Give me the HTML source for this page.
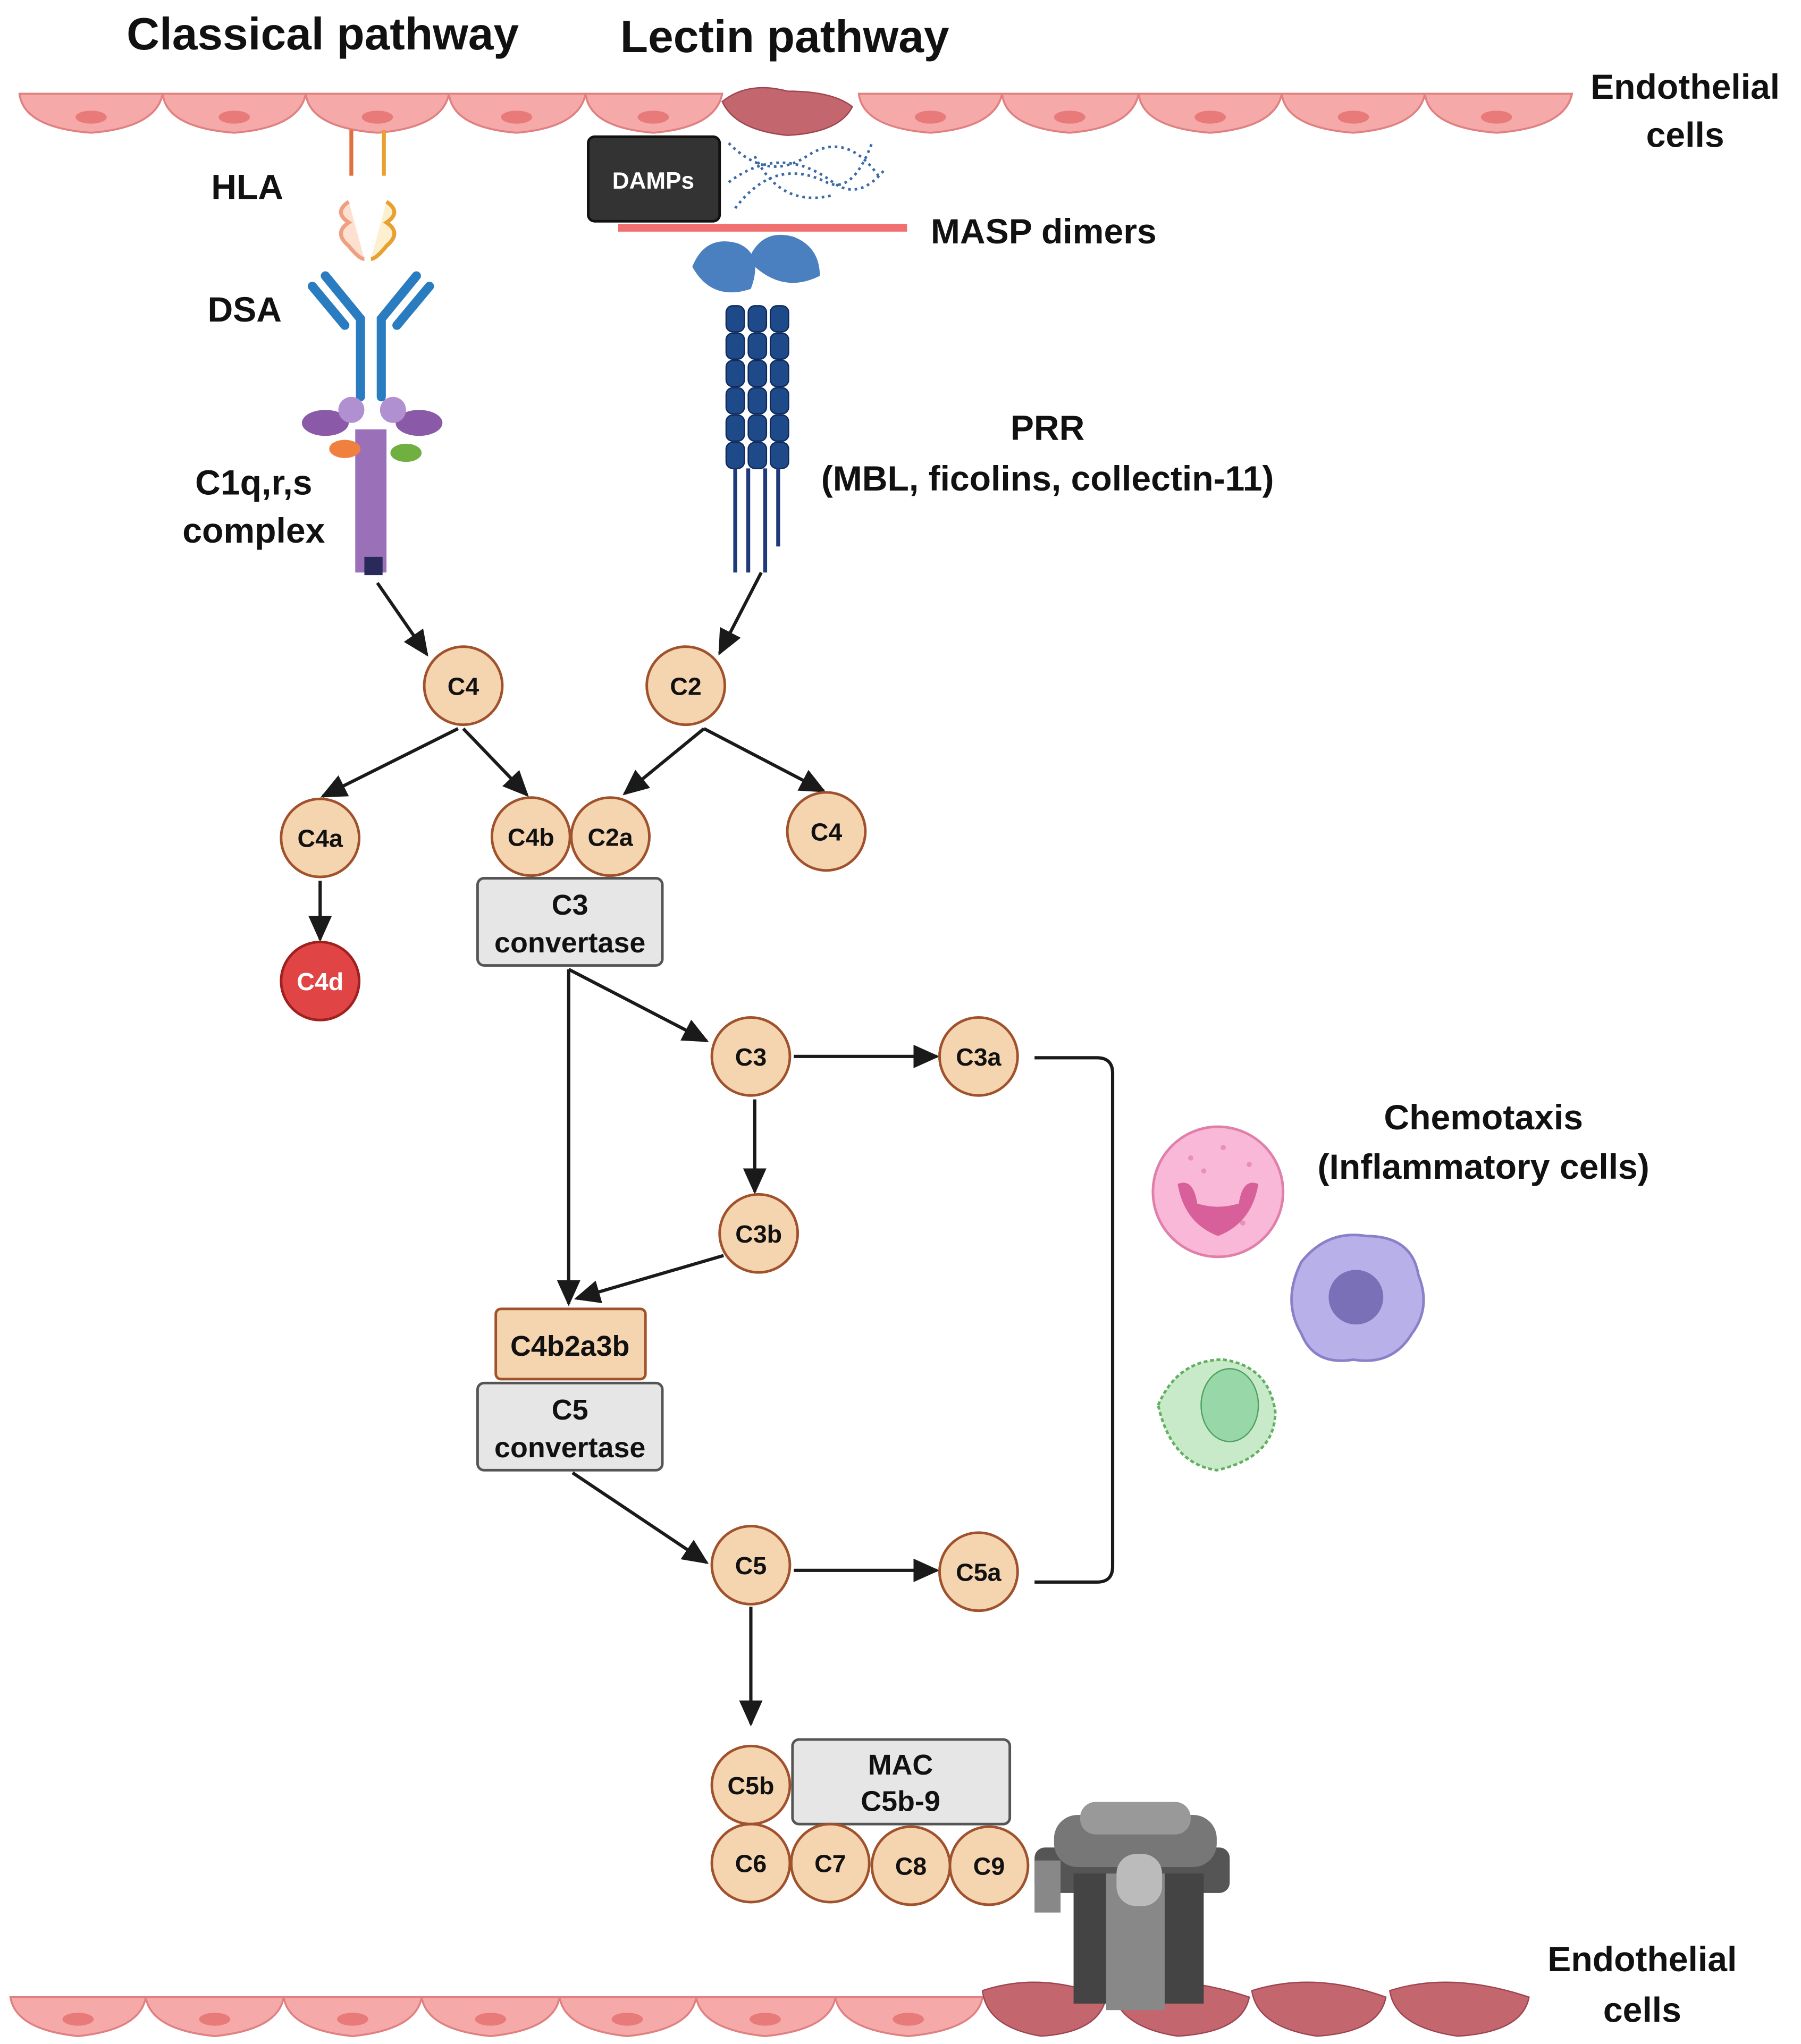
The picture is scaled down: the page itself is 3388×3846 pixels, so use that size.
<!DOCTYPE html>
<html><head><meta charset="utf-8"><style>
html,body{margin:0;padding:0;background:#fff}
svg{display:block}
text{font-family:"Liberation Sans",sans-serif;font-weight:bold;fill:#111}
</style></head><body>
<svg width="3388" height="3846" viewBox="0 0 1384 1571" xmlns="http://www.w3.org/2000/svg">
<defs>
<marker id="ah2" markerWidth="22" markerHeight="22" refX="18" refY="11" orient="auto" markerUnits="userSpaceOnUse" viewBox="0 0 22 22">
<path d="M0,2 L20,11 L0,20 z" fill="#1a1a1a"/></marker>
</defs>
<!-- titles -->
<text x="248" y="38" font-size="35" text-anchor="middle">Classical pathway</text>
<text x="603" y="40" font-size="35" text-anchor="middle">Lectin pathway</text>
<text x="1295" y="76" font-size="27" text-anchor="middle">Endothelial</text>
<text x="1295" y="113" font-size="27" text-anchor="middle">cells</text>
<text x="1262" y="1515" font-size="27" text-anchor="middle">Endothelial</text>
<text x="1262" y="1554" font-size="27" text-anchor="middle">cells</text>
<!-- top endothelium -->
<g fill="#f6a9a9" stroke="#e08080" stroke-width="1.5">
<path d="M15,72 L125,72 Q120,98 70,102 Q18,98 15,72Z"/>
<path d="M125,72 L235,72 Q230,98 180,102 Q128,98 125,72Z"/>
<path d="M235,72 L345,72 Q340,98 290,102 Q238,98 235,72Z"/>
<path d="M345,72 L450,72 Q445,98 397,102 Q348,98 345,72Z"/>
<path d="M450,72 L555,72 Q550,98 502,102 Q453,98 450,72Z"/>
<path d="M660,72 L770,72 Q765,98 715,102 Q663,98 660,72Z"/>
<path d="M770,72 L875,72 Q870,98 822,102 Q773,98 770,72Z"/>
<path d="M875,72 L985,72 Q980,98 930,102 Q878,98 875,72Z"/>
<path d="M985,72 L1095,72 Q1090,98 1040,102 Q988,98 985,72Z"/>
<path d="M1095,72 L1208,72 Q1203,98 1150,102 Q1098,98 1095,72Z"/>
</g>
<g fill="#e97a7a">
<ellipse cx="70" cy="90" rx="12" ry="5"/><ellipse cx="180" cy="90" rx="12" ry="5"/><ellipse cx="290" cy="90" rx="12" ry="5"/><ellipse cx="397" cy="90" rx="12" ry="5"/><ellipse cx="502" cy="90" rx="12" ry="5"/><ellipse cx="715" cy="90" rx="12" ry="5"/><ellipse cx="822" cy="90" rx="12" ry="5"/><ellipse cx="930" cy="90" rx="12" ry="5"/><ellipse cx="1040" cy="90" rx="12" ry="5"/><ellipse cx="1150" cy="90" rx="12" ry="5"/>
</g>
<path d="M555,78 Q575,62 605,70 Q640,70 655,82 Q645,102 605,104 Q565,100 555,78Z" fill="#c4666e" stroke="#9e4450"/>
<!-- bottom endothelium -->
<g fill="#f6a9a9" stroke="#e08080" stroke-width="1.5">
<path d="M8,1535 L112,1535 Q108,1560 60,1565 Q12,1560 8,1535Z"/>
<path d="M112,1535 L218,1535 Q214,1560 165,1565 Q116,1560 112,1535Z"/>
<path d="M218,1535 L324,1535 Q320,1560 271,1565 Q222,1560 218,1535Z"/>
<path d="M324,1535 L430,1535 Q426,1560 377,1565 Q328,1560 324,1535Z"/>
<path d="M430,1535 L535,1535 Q531,1560 482,1565 Q434,1560 430,1535Z"/>
<path d="M535,1535 L642,1535 Q638,1560 588,1565 Q539,1560 535,1535Z"/>
<path d="M642,1535 L755,1535 Q751,1560 698,1565 Q646,1560 642,1535Z"/>
</g>
<g fill="#e97a7a">
<ellipse cx="60" cy="1552" rx="12" ry="5"/><ellipse cx="165" cy="1552" rx="12" ry="5"/><ellipse cx="271" cy="1552" rx="12" ry="5"/><ellipse cx="377" cy="1552" rx="12" ry="5"/><ellipse cx="482" cy="1552" rx="12" ry="5"/><ellipse cx="588" cy="1552" rx="12" ry="5"/><ellipse cx="698" cy="1552" rx="12" ry="5"/>
</g>
<g fill="#c4666e" stroke="#9e4450">
<path d="M755,1530 Q800,1515 850,1535 Q845,1562 800,1565 Q758,1558 755,1530Z"/>
<path d="M855,1530 Q900,1515 960,1535 Q955,1562 905,1565 Q860,1558 855,1530Z"/>
<path d="M962,1530 Q1010,1515 1065,1535 Q1060,1562 1012,1565 Q966,1558 962,1530Z"/>
<path d="M1068,1530 Q1115,1515 1175,1535 Q1170,1562 1120,1565 Q1072,1558 1068,1530Z"/>
</g>
<!-- labels left -->
<text x="190" y="153" font-size="27" text-anchor="middle">HLA</text>
<text x="188" y="247" font-size="27" text-anchor="middle">DSA</text>
<text x="195" y="380" font-size="27" text-anchor="middle">C1q,r,s</text>
<text x="195" y="417" font-size="27" text-anchor="middle">complex</text>
<!-- HLA -->
<g stroke-width="3" fill="none">
<path d="M270,100 L270,135" stroke="#e07040"/><path d="M295,100 L295,135" stroke="#e8a030"/>
<path d="M268,155 q-12,8 0,16 q-12,8 0,18 q8,10 12,10" stroke="#f0a080" fill="#fde0d0"/>
<path d="M297,155 q12,8 0,16 q12,8 0,18 q-8,10 -12,10" stroke="#e8a030" fill="#fdf0d0"/>
</g>
<!-- DSA -->
<g stroke="#2a7cc0" stroke-width="7" fill="none" stroke-linecap="round">
<path d="M277,305 L277,245 L250,212"/><path d="M293,305 L293,245 L320,212"/>
<path d="M265,250 L240,220"/><path d="M305,250 L330,220"/>
</g>
<!-- C1q -->
<g>
<rect x="273" y="330" width="24" height="110" fill="#9a70b8"/>
<ellipse cx="250" cy="325" rx="18" ry="10" fill="#8a5aa8"/><ellipse cx="322" cy="325" rx="18" ry="10" fill="#8a5aa8"/>
<circle cx="270" cy="315" r="10" fill="#b090d0"/><circle cx="302" cy="315" r="10" fill="#b090d0"/>
<ellipse cx="265" cy="345" rx="12" ry="7" fill="#f08040"/><ellipse cx="312" cy="348" rx="12" ry="7" fill="#70b040"/>
<rect x="280" y="428" width="14" height="14" fill="#2a2a5a"/>
</g>
<!-- DAMPs / lectin -->
<rect x="452" y="105" width="101" height="65" rx="5" fill="#333" stroke="#111" stroke-width="2"/>
<text x="502" y="145" font-size="18" text-anchor="middle" style="fill:#fff">DAMPs</text>
<g stroke="#3a6aa8" stroke-width="2" stroke-dasharray="2,3" fill="none">
<path d="M560,110 q30,30 60,10 q30,-20 55,15"/><path d="M560,140 q40,-30 80,0 q20,15 40,-10"/>
<path d="M565,160 q30,-40 70,-20 q20,10 35,-30"/><path d="M580,120 q20,40 60,30"/>
</g>
<rect x="475" y="172" width="222" height="6" fill="#f07070"/>
<text x="802" y="187" font-size="27" text-anchor="middle">MASP dimers</text>
<g>
<path d="M532,205 q10,-25 35,-18 q20,8 10,35 q-30,10 -45,-17Z" fill="#4a80c0"/>
<path d="M575,200 q10,-25 35,-18 q20,8 20,30 q-30,15 -55,-12Z" fill="#4a80c0"/>
<g fill="#1f4a8a" stroke="#0f2a5a">
<rect x="558" y="235" width="14" height="20" rx="5"/><rect x="575" y="235" width="14" height="20" rx="5"/><rect x="592" y="235" width="14" height="20" rx="5"/>
<rect x="558" y="256" width="14" height="20" rx="5"/><rect x="575" y="256" width="14" height="20" rx="5"/><rect x="592" y="256" width="14" height="20" rx="5"/>
<rect x="558" y="277" width="14" height="20" rx="5"/><rect x="575" y="277" width="14" height="20" rx="5"/><rect x="592" y="277" width="14" height="20" rx="5"/>
<rect x="558" y="298" width="14" height="20" rx="5"/><rect x="575" y="298" width="14" height="20" rx="5"/><rect x="592" y="298" width="14" height="20" rx="5"/>
<rect x="558" y="319" width="14" height="20" rx="5"/><rect x="575" y="319" width="14" height="20" rx="5"/><rect x="592" y="319" width="14" height="20" rx="5"/>
<rect x="558" y="340" width="14" height="20" rx="5"/><rect x="575" y="340" width="14" height="20" rx="5"/><rect x="592" y="340" width="14" height="20" rx="5"/>
</g>
<g stroke="#1f3a7a" stroke-width="3"><line x1="565" y1="360" x2="565" y2="440"/><line x1="575" y1="360" x2="575" y2="440"/><line x1="588" y1="360" x2="588" y2="440"/><line x1="598" y1="360" x2="598" y2="420"/></g>
</g>
<text x="805" y="338" font-size="27" text-anchor="middle">PRR</text>
<text x="805" y="377" font-size="27" text-anchor="middle">(MBL, ficolins, collectin-11)</text>
<!-- arrows -->
<g stroke="#1a1a1a" stroke-width="2.5" fill="none" marker-end="url(#ah2)">
<line x1="290" y1="448" x2="328" y2="503"/>
<line x1="585" y1="440" x2="553" y2="502"/>
<line x1="352" y1="560" x2="248" y2="612"/>
<line x1="356" y1="560" x2="405" y2="611"/>
<line x1="541" y1="560" x2="480" y2="610"/>
<line x1="541" y1="560" x2="633" y2="608"/>
<line x1="246" y1="677" x2="246" y2="722"/>
<line x1="437" y1="745" x2="437" y2="1002"/>
<line x1="437" y1="745" x2="543" y2="800"/>
<line x1="610" y1="812" x2="720" y2="812"/>
<line x1="580" y1="845" x2="580" y2="916"/>
<line x1="556" y1="965" x2="443" y2="998"/>
<line x1="440" y1="1132" x2="543" y2="1201"/>
<line x1="610" y1="1207" x2="720" y2="1207"/>
<line x1="577" y1="1235" x2="577" y2="1325"/>
</g>
<path d="M795,813 L843,813 Q855,813 855,825 L855,1204 Q855,1216 843,1216 L795,1216" stroke="#1a1a1a" stroke-width="2.5" fill="none"/>
<!-- boxes -->
<g stroke="#555" stroke-width="2" fill="#e6e6e6">
<rect x="367" y="675" width="142" height="67" rx="5"/>
<rect x="367" y="1063" width="142" height="67" rx="5"/>
<rect x="609" y="1337" width="167" height="65" rx="5"/>
</g>
<rect x="381" y="1006" width="115" height="54" rx="4" fill="#f5d5b0" stroke="#a0522d" stroke-width="2"/>
<g font-size="22" text-anchor="middle">
<text x="438" y="703">C3</text><text x="438" y="732">convertase</text>
<text x="438" y="1091">C5</text><text x="438" y="1120">convertase</text>
<text x="692" y="1364">MAC</text><text x="692" y="1392">C5b-9</text>
<text x="438" y="1042">C4b2a3b</text>
</g>
<!-- circles -->
<g fill="#f5d5b0" stroke="#a0522d" stroke-width="2">
<circle cx="356" cy="527" r="30"/><circle cx="527" cy="527" r="30"/>
<circle cx="246" cy="644" r="30"/><circle cx="408" cy="643" r="30"/><circle cx="469" cy="643" r="30"/><circle cx="635" cy="639" r="30"/>
<circle cx="577" cy="812" r="30"/><circle cx="752" cy="812" r="30"/><circle cx="583" cy="948" r="30"/>
<circle cx="577" cy="1203" r="30"/><circle cx="752" cy="1208" r="30"/>
<circle cx="577" cy="1372" r="30"/><circle cx="577" cy="1432" r="30"/><circle cx="638" cy="1432" r="30"/><circle cx="700" cy="1434" r="30"/><circle cx="760" cy="1434" r="30"/>
</g>
<circle cx="246" cy="754" r="30" fill="#e04444" stroke="#a02020" stroke-width="2"/>
<g font-size="19" text-anchor="middle">
<text x="356" y="534">C4</text><text x="527" y="534">C2</text>
<text x="246" y="651">C4a</text><text x="408" y="650">C4b</text><text x="469" y="650">C2a</text><text x="635" y="646">C4</text>
<text x="246" y="761" style="fill:#fff">C4d</text>
<text x="577" y="819">C3</text><text x="752" y="819">C3a</text><text x="583" y="955">C3b</text>
<text x="577" y="1210">C5</text><text x="752" y="1215">C5a</text>
<text x="577" y="1379">C5b</text><text x="577" y="1439">C6</text><text x="638" y="1439">C7</text><text x="700" y="1441">C8</text><text x="760" y="1441">C9</text>
</g>
<!-- chemotaxis -->
<text x="1140" y="868" font-size="27" text-anchor="middle">Chemotaxis</text>
<text x="1140" y="906" font-size="27" text-anchor="middle">(Inflammatory cells)</text>
<circle cx="936" cy="916" r="50" fill="#f9b8d8" stroke="#e080a8" stroke-width="2"/>
<g fill="#e890b8"><circle cx="915" cy="890" r="2"/><circle cx="940" cy="882" r="2"/><circle cx="960" cy="895" r="2"/><circle cx="925" cy="900" r="2"/><circle cx="955" cy="940" r="2"/></g>
<path d="M905,910 q5,30 31,40 q26,-10 31,-40 q-12,-5 -15,15 q-16,5 -32,0 q-3,-20 -15,-15Z" fill="#d8609a"/>
<path d="M1000,970 q20,-25 50,-20 q35,0 40,30 q10,25 -5,45 q-15,25 -45,20 q-30,5 -40,-20 q-15,-25 0,-55Z" fill="#b8b0e8" stroke="#8a80c8" stroke-width="2"/>
<circle cx="1042" cy="997" r="21" fill="#7a70b8"/>
<path d="M890,1080 q15,-35 50,-35 q35,5 40,40 q0,35 -45,45 q-35,-5 -45,-50Z" fill="#c8eac8" stroke="#60b060" stroke-width="2" stroke-dasharray="3,2"/>
<ellipse cx="945" cy="1080" rx="22" ry="28" fill="#98d8a8" stroke="#50a060"/>
<!-- MAC pore -->
<g>
<rect x="795" y="1420" width="150" height="35" rx="8" fill="#555"/>
<rect x="810" y="1395" width="125" height="40" rx="18" fill="#777"/>
<rect x="830" y="1385" width="85" height="25" rx="12" fill="#999"/>
<rect x="825" y="1440" width="100" height="100" fill="#444"/>
<rect x="850" y="1440" width="45" height="105" fill="#888"/>
<rect x="858" y="1425" width="35" height="40" rx="15" fill="#bbb"/>
<rect x="795" y="1430" width="20" height="40" fill="#888"/>
</g>
</svg>
</body></html>
